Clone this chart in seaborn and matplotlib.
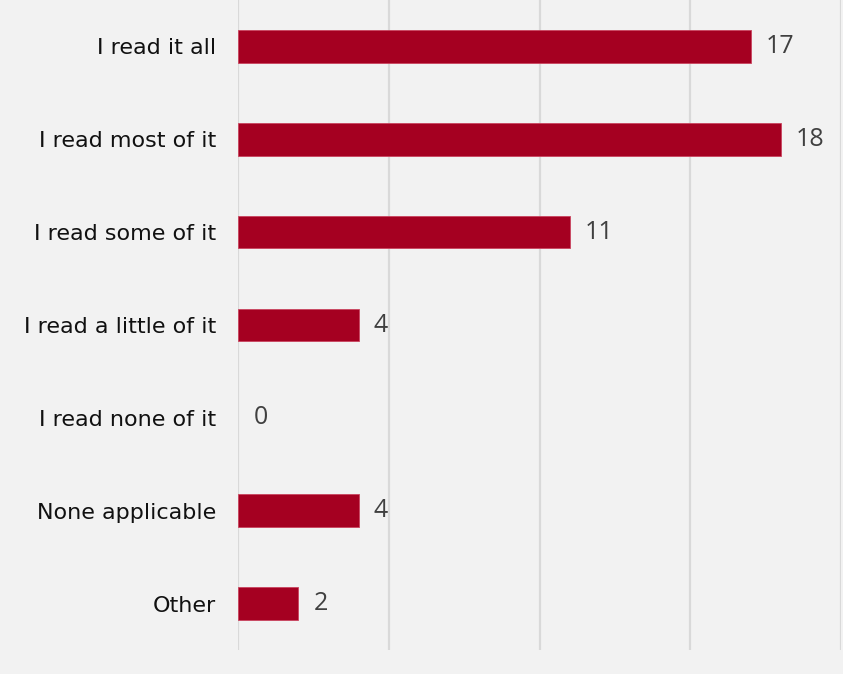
import matplotlib
matplotlib.use("Agg")
import matplotlib.pyplot as plt
import seaborn as sns
import pandas as pd

categories = [
    "I read it all",
    "I read most of it",
    "I read some of it",
    "I read a little of it",
    "I read none of it",
    "None applicable",
    "Other",
]
counts = [17, 18, 11, 4, 0, 4, 2]

df = pd.DataFrame({"response": categories, "count": counts})

sns.set_theme(style="white")
bg = "#f2f2f2"
fig = plt.figure(figsize=(8.43, 6.74), dpi=100, facecolor=bg)
ax = fig.add_axes([238 / 843, 24 / 674, (841 - 238) / 843, 650 / 674])
ax.set_facecolor(bg)

sns.barplot(data=df, y="response", x="count", orient="h", ax=ax,
            color="#a50021", saturation=1, width=0.35,
            edgecolor="#c9445e", linewidth=0.6, zorder=3)

# hide the outline of empty bars
for patch, v in zip(ax.patches, counts):
    if v == 0:
        patch.set_linewidth(0)

ax.set_xlim(0, 20)
ax.set_ylim(6.5, -0.5)
ax.set_xticks([0, 5, 10, 15, 20])
ax.xaxis.grid(True, color="#d9d9d9", linewidth=1.6, zorder=0)
ax.set_xticklabels([])
ax.set_xlabel("")
ax.set_ylabel("")
for s in ax.spines.values():
    s.set_visible(False)
ax.tick_params(axis="both", length=0)
ax.tick_params(axis="y", pad=16)
for lab in ax.get_yticklabels():
    lab.set_fontfamily("DejaVu Sans")
    lab.set_fontsize(16)
    lab.set_color("#111111")

ax.bar_label(ax.containers[0], labels=[str(v) for v in counts], padding=11,
             fontsize=18, color="#404040", family="Open Sans")

fig.savefig("out.png", dpi=100, facecolor=bg)
